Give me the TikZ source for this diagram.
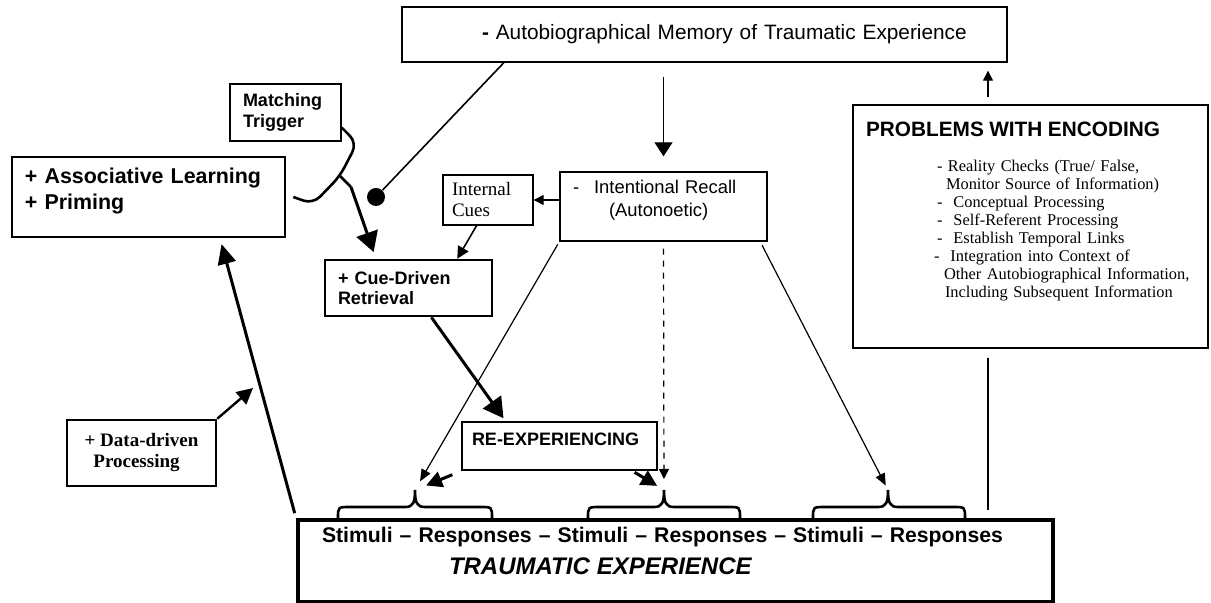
\documentclass[tikz,border=0pt]{standalone}
\usepackage{fontspec}
\setmainfont{Liberation Serif}
\setsansfont{Liberation Sans}
\usetikzlibrary{arrows.meta}

\begin{document}
\begin{tikzpicture}[x=0.5pt, y=-0.5pt, >={Triangle[length=5pt,width=5pt]}]
  \tikzstyle{box}=[draw, line width=0.7pt, inner sep=0pt, align=left, font=\sffamily]
  \tikzstyle{bbox}=[box, line width=1.3pt]
  \tikzstyle{fine}=[line width=0.6pt, ->]
  \tikzstyle{mid}=[line width=0.7pt, -{Triangle[length=7pt,width=9pt]}]
  \tikzstyle{stub}=[line width=1.5pt, -{Triangle[length=8pt,width=8pt]}]
  \tikzstyle{heavy}=[line width=1.5pt, -{Triangle[length=10pt,width=11pt]}]
  \tikzstyle{brc}=[line width=1.3pt]
  \useasboundingbox (0,0) rectangle (1211,603);

  \node[box, minimum width=302.5pt, minimum height=27.5pt, text width=290.5pt,
        font=\sffamily\fontsize{10.4}{12}\selectfont] (mem) at (704.5,34.5)
        {\hspace*{34pt}\textbf{-} Autobiographical Memory of Traumatic Experience};
  \node[box, minimum width=103.5pt, minimum height=34.5pt, text width=90.5pt,
        font=\sffamily\fontsize{9.2}{11.5}\selectfont] (recall) at (663.5,206.5)
        {-\hspace{7.5pt}Intentional Recall\\\hspace*{18pt}(Autonoetic)\rule[-8pt]{0pt}{0pt}};
  \node[box, minimum width=45pt, minimum height=25pt, text width=36pt,
        font=\rmfamily\fontsize{9.5}{10.5}\selectfont] (cues) at (488,200) {Internal\\Cues};
  \node[bbox, minimum width=83.5pt, minimum height=28pt, text width=70.5pt,
        font=\sffamily\bfseries\fontsize{9}{10}\selectfont] (cue) at (408.5,288)
        {+ Cue-Driven\\Retrieval};
  \node[bbox, minimum width=136.5pt, minimum height=40pt, text width=123.5pt,
        font=\sffamily\bfseries\fontsize{10.7}{13}\selectfont] (assoc) at (148.5,197)
        {+ Associative Learning\\+ Priming\rule[-8.25pt]{0pt}{0pt}};
  \node[box, minimum width=55.5pt, minimum height=28.5pt, text width=42.5pt,
        font=\sffamily\bfseries\fontsize{9}{10.5}\selectfont] (trig) at (285.5,112.5)
        {Matching\\Trigger};
  \node[bbox, minimum width=74.5pt, minimum height=33pt, align=center,
        font=\rmfamily\bfseries\fontsize{9.5}{10.5}\selectfont] (data) at (141.5,453)
        {+ Data-driven\\Processing\hspace*{5pt}};
  \node[bbox, minimum width=97.5pt, minimum height=24pt, text width=87.5pt,
        font=\sffamily\bfseries\fontsize{9}{10.5}\selectfont] (reexp) at (559.5,446)
        {RE-EXPERIENCING\rule[-7pt]{0pt}{0pt}};
  \node[box, line width=2pt, minimum width=377.5pt, minimum height=41pt, text width=353.5pt,
        font=\sffamily\bfseries\fontsize{10.6}{16}\selectfont] (trauma) at (675.5,561)
        {Stimuli \textendash{} Responses \textendash{} Stimuli \textendash{} Responses \textendash{} Stimuli \textendash{} Responses\\
         \hspace*{63.5pt}{\fontsize{12}{16}\selectfont\itshape TRAUMATIC EXPERIENCE}\rule[-10pt]{0pt}{0pt}};
  \node[box, minimum width=177.5pt, minimum height=121.5pt, text width=164.5pt,
        font=\rmfamily\fontsize{8.2}{9}\selectfont] (prob) at (1030.5,226.5)
        {{\sffamily\bfseries\fontsize{10.4}{12}\selectfont PROBLEMS WITH ENCODING}\\[8.5pt]
         \hspace*{35.5pt}\mbox{- Reality Checks (True/ False,}\\
         \hspace*{40pt}\mbox{Monitor Source of Information)}\\
         \hspace*{35.5pt}\mbox{-\ \ Conceptual Processing}\\
         \hspace*{35.5pt}\mbox{-\ \ Self-Referent Processing}\\
         \hspace*{35.5pt}\mbox{-\ \ Establish Temporal Links}\\
         \hspace*{34pt}\mbox{-\ \ Integration into Context of}\\
         \hspace*{39pt}\mbox{Other Autobiographical Information,}\\
         \hspace*{39.5pt}\mbox{Including Subsequent Information}\rule[-17pt]{0pt}{0pt}};
  \node[circle, fill, inner sep=0pt, minimum size=9pt] (dot) at (376,197) {};

  \coordinate (tip) at (340,176);
  \coordinate (arm) at (351,187);
  \coordinate (enc) at (988,0);
  \coordinate (dd) at (253,388);

  % braces over the stimulus chain
  \foreach \l/\t/\r/\n in {338/415/492/b1, 588/664/740/b2, 813/888/965/b3}
    \draw[brc] (\l,518) .. controls (\l,507) .. (\l+12,507) -- (\t-10,507)
      .. controls (\t-2,507) and (\t,503) .. (\t,490) coordinate (\n)
      .. controls (\t,503) and (\t+2,507) .. (\t+10,507) -- (\r-12,507)
      .. controls (\r,507) .. (\r,518);

  \draw[mid, shorten <=7pt, shorten >=7.5pt] (recall.north |- mem.south) -- (recall.north);
  \draw[fine] (cues.east -| recall.west) -- (cues.east);
  \draw[fine, line width=0.8pt, -{Triangle[length=6pt,width=6pt]}] (cues.246) -- (cue.31);
  \draw[line width=0.8pt] (mem.188.3) -- (dot);
  \draw[brc, rounded corners=5pt] (trig.-15) -- (357,143) -- (tip) -- (313,204) -- ([xshift=3.5pt]assoc.east);
  \draw[brc] (tip) -- (arm);
  \draw[heavy, shorten >=3.5pt] (arm) -- (cue.138);
  \draw[heavy, shorten >=1.5pt] (cue.-52.5) -- (reexp.155);
  \draw[fine, -{Triangle[length=6pt,width=5pt]}, shorten <=1.5pt, shorten >=5pt] (recall.south west) -- (b1);
  \draw[fine, dashed, shorten <=3.5pt, shorten >=5.5pt] (recall.south) -- (b2);
  \draw[fine, -{Triangle[length=6pt,width=5pt]}, shorten <=2pt, shorten >=2.5pt] (recall.-20) -- (b3);
  \draw[stub, shorten <=4.5pt, shorten >=6pt] (reexp.south west) -- (b1);
  \draw[stub, shorten <=1pt, shorten >=4pt] (reexp.-19) -- (b2);
  \draw[heavy, -{Triangle[length=10pt,width=9pt]}, shorten <=2.5pt, shorten >=3pt] (trauma.north west) -- (assoc.-30);
  \draw[stub, line width=1.2pt] (data.north east) -- (dd);
  \draw[fine, shorten <=3.5pt, shorten >=4pt] (prob.north -| enc) -- (mem.south -| enc);
  \draw[line width=0.7pt, shorten <=4.5pt, shorten >=4pt] (prob.south -| enc) -- (trauma.north -| enc);
\end{tikzpicture}
\end{document}
